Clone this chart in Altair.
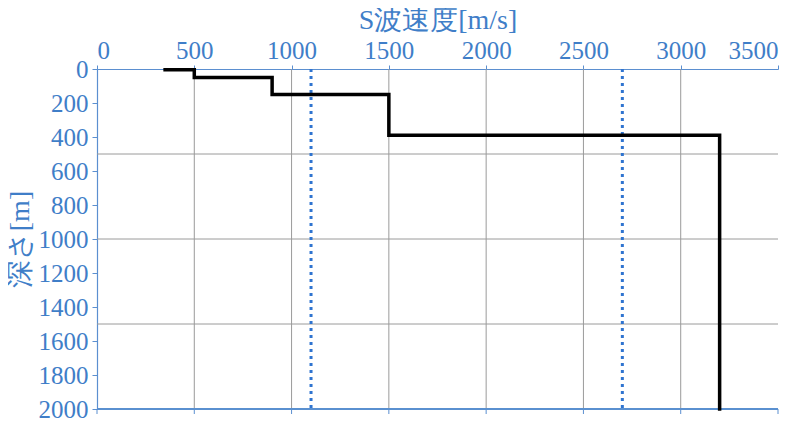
import altair as alt
import pandas as pd

# Step profile of S-wave velocity vs depth
vs = [350, 500, 500, 900, 900, 1500, 1500, 3200, 3200]
depth = [5, 5, 50, 50, 150, 150, 390, 390, 2000]

# Reference dotted lines (velocity)
ref_vs = [1100, 2700]

# Grid positions
x_grid = [500, 1000, 1500, 2000, 2500, 3000]
y_grid = [500, 1000, 1500]

x_ticks = [0, 500, 1000, 1500, 2000, 2500, 3000, 3500]
y_ticks = list(range(0, 2001, 200))

BLUE = "#3f7ec8"
AXIS = "#5b8fd0"
GRID = "#9a9a9a"
FONT = "Liberation Serif"

prof = pd.DataFrame({"vs": vs, "depth": depth, "order": list(range(len(vs)))})
refs = pd.DataFrame({"vs": ref_vs})
xg = pd.DataFrame({"vs": x_grid})
yg = pd.DataFrame({"depth": y_grid})
xt = pd.DataFrame({"vs": x_ticks})

xscale = alt.Scale(domain=[0, 3500], nice=False, zero=False)
yscale = alt.Scale(domain=[0, 2000], reverse=True, nice=False, zero=False)

top_axis = alt.Axis(orient="top", values=x_ticks, grid=False, title="S波速度[m/s]",
                    format="d", labelOverlap=False,
                    labelFontSize=25, titleFontSize=28, tickSize=4, labelPadding=2,
                    titlePadding=4)
left_axis = alt.Axis(orient="left", values=y_ticks, grid=False, title="深さ[m]",
                     format="d", labelOverlap=False,
                     labelFontSize=25, titleFontSize=28, tickSize=5, labelPadding=4,
                     titlePadding=4)

vgrid = alt.Chart(xg).mark_rule(color=GRID, strokeWidth=1).encode(
    x=alt.X("vs:Q", scale=xscale, axis=top_axis),
    y=alt.value(0), y2=alt.value(340),
)
hgrid = alt.Chart(yg).mark_rule(color=GRID, strokeWidth=1).encode(
    y=alt.Y("depth:Q", scale=yscale, axis=left_axis),
    x=alt.value(0), x2=alt.value(681),
)
# bottom axis line and its downward ticks
bottom_line = alt.Chart(xt).mark_rule(color=AXIS, strokeWidth=1.2).encode(
    x=alt.value(0), x2=alt.value(681), y=alt.value(340),
)
bottom_ticks = alt.Chart(xt).mark_rule(color=AXIS, strokeWidth=1).encode(
    x=alt.X("vs:Q", scale=xscale, axis=top_axis),
    y=alt.value(340), y2=alt.value(345),
)
dots = alt.Chart(refs).mark_rule(color="#2f74d0", strokeWidth=3, strokeDash=[3, 4]).encode(
    x=alt.X("vs:Q", scale=xscale, axis=top_axis),
    y=alt.value(0), y2=alt.value(340),
)
line = alt.Chart(prof).mark_line(color="black", strokeWidth=3.5, strokeCap="square",
                                 strokeJoin="miter").encode(
    x=alt.X("vs:Q", scale=xscale, axis=top_axis),
    y=alt.Y("depth:Q", scale=yscale, axis=left_axis),
    order="order:Q",
)

chart = alt.layer(vgrid, hgrid, bottom_ticks, dots, bottom_line, line).properties(
    width=681, height=340,
    autosize=alt.AutoSizeParams(type="none"),
    padding={"left": 89, "top": 61, "right": 20, "bottom": 10},
).configure_view(stroke=None).configure_axis(
    labelFont=FONT, titleFont=FONT,
    labelColor=BLUE, titleColor=BLUE, labelOverlap=False,
    titleFontWeight="normal", domainColor=AXIS, tickColor=AXIS, domainWidth=1.2,
)

chart.save("out.html", embed_options={"renderer": "svg", "actions": False})
